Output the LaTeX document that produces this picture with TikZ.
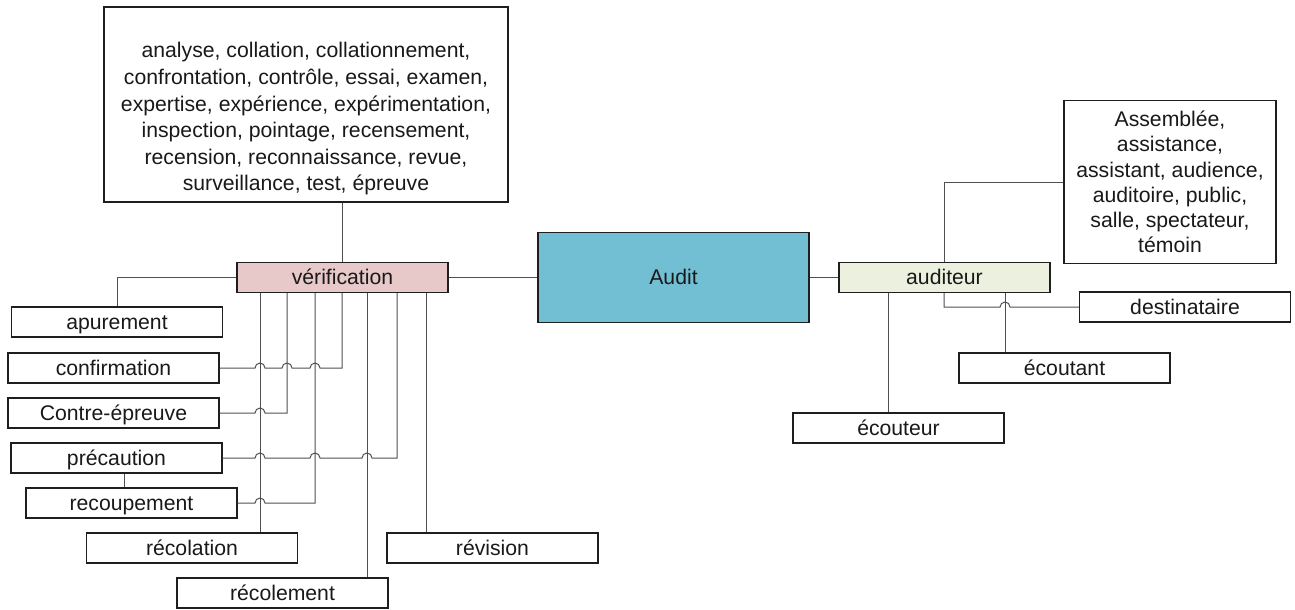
\documentclass[tikz,border=0pt]{standalone}
\usepackage{fontspec}
\setmainfont{Liberation Sans}
\definecolor{verifpink}{RGB}{231,201,201}
\definecolor{auditblue}{RGB}{114,191,212}
\definecolor{audgreen}{RGB}{235,241,222}
\definecolor{linegray}{RGB}{80,80,80}
\definecolor{boxline}{RGB}{30,30,30}
\tikzset{
  box/.style={draw=boxline, line width=1.2pt, fill=white, minimum width=211pt, minimum height=30pt,
    inner sep=0pt, font=\fontsize{21.2}{25}\selectfont, text=black!90,
    text height=19pt, text depth=4.5pt},
  conn/.style={draw=linegray, line width=1pt},
}
\begin{document}
\begin{tikzpicture}[x=1pt,y=-1pt]
\useasboundingbox (0,0) rectangle (1295,610);

% nodes
\node[box, minimum width=404pt, minimum height=195pt, text height=, text depth=] (top) at (306,104.5)
  {\parbox[c][195pt][c]{404pt}{\centering\fontsize{21.2}{26.6}\selectfont\vspace*{29pt}
  analyse, collation, collationnement,\\
  confrontation, contrôle, essai, examen,\\
  expertise, expérience, expérimentation,\\
  inspection, pointage, recensement,\\
  recension, reconnaissance, revue,\\
  surveillance, test, épreuve}};
\node[box, fill=verifpink] (verif) at (342.5,277.5) {vérification};
\node[box] (apur) at (117,322) {apurement};
\node[box] (conf) at (113.5,368) {confirmation};
\node[box] (contre) at (113.5,413) {Contre-épreuve};
\node[box] (prec) at (116.5,458) {précaution};
\node[box] (recoup) at (131.5,503) {recoupement};
\node[box] (recolation) at (192,548) {récolation};
\node[box] (recolement) at (282.5,593) {récolement};
\node[box] (revision) at (492.5,548) {révision};
\node[box, fill=auditblue, minimum width=271pt, minimum height=90pt] (audit) at (673.5,277.5) {Audit};
\node[box, fill=audgreen] (auditeur) at (944.5,277.5) {auditeur};
\node[box, minimum width=212pt, minimum height=163pt, align=center, text height=, text depth=,
  font=\fontsize{21.2}{25.3}\selectfont] (assemblee) at (1170,182)
  {Assemblée,\\assistance,\\assistant, audience,\\auditoire, public,\\salle, spectateur,\\témoin};
\node[box] (destin) at (1185,307) {destinataire};
\node[box] (ecoutant) at (1064.5,368) {écoutant};
\node[box] (ecouteur) at (898.5,428) {écouteur};

% vertical line positions
\coordinate (v1) at (260,0);
\coordinate (v2) at (287,0);
\coordinate (v3) at (315,0);
\coordinate (v4) at (342,0);
\coordinate (v5) at (367,0);
\coordinate (v6) at (397,0);
\coordinate (v7) at (426,0);
\coordinate (vp) at (124,0);
\coordinate (wa) at (888,0);
\coordinate (wb) at (944,0);
\coordinate (wc) at (1005,0);

% connectors
\draw[conn] (verif.north |- top.south) -- (verif.north);
\draw[conn] (verif.west) -| (apur.north);
\draw[conn] (verif.east) -- (audit.west);
\draw[conn] (audit.east) -- (auditeur.west);

\draw[conn] (conf.east) -- (255,368) arc[start angle=180,end angle=0,radius=5pt]
  -- (282,368) arc[start angle=180,end angle=0,radius=5pt]
  -- (310,368) arc[start angle=180,end angle=0,radius=5pt]
  -- (conf.east -| v4) -- (verif.south -| v4);
\draw[conn] (contre.east) -- (255,413) arc[start angle=180,end angle=0,radius=5pt]
  -- (contre.east -| v2) -- (verif.south -| v2);
\draw[conn] (prec.east) -- (255,458) arc[start angle=180,end angle=0,radius=5pt]
  -- (310,458) arc[start angle=180,end angle=0,radius=5pt]
  -- (362,458) arc[start angle=180,end angle=0,radius=5pt]
  -- (prec.east -| v6) -- (verif.south -| v6);
\draw[conn] (recoup.east) -- (255,503) arc[start angle=180,end angle=0,radius=5pt]
  -- (recoup.east -| v3) -- (verif.south -| v3);
\draw[conn] (verif.south -| v1) -- (recolation.north -| v1);
\draw[conn] (verif.south -| v5) -- (recolement.north -| v5);
\draw[conn] (verif.south -| v7) -- (revision.north -| v7);
\draw[conn] (prec.south -| vp) -- (recoup.north -| vp);

\draw[conn] (assemblee.west) -| (auditeur.north -| wb);
\draw[conn] (auditeur.south -| wb) -- (wb |- destin.west) -- (1000,307)
  arc[start angle=180,end angle=0,radius=5pt] -- (destin.west);
\draw[conn] (auditeur.south -| wc) -- (ecoutant.north -| wc);
\draw[conn] (auditeur.south -| wa) -- (ecouteur.north -| wa);
\end{tikzpicture}
\end{document}
